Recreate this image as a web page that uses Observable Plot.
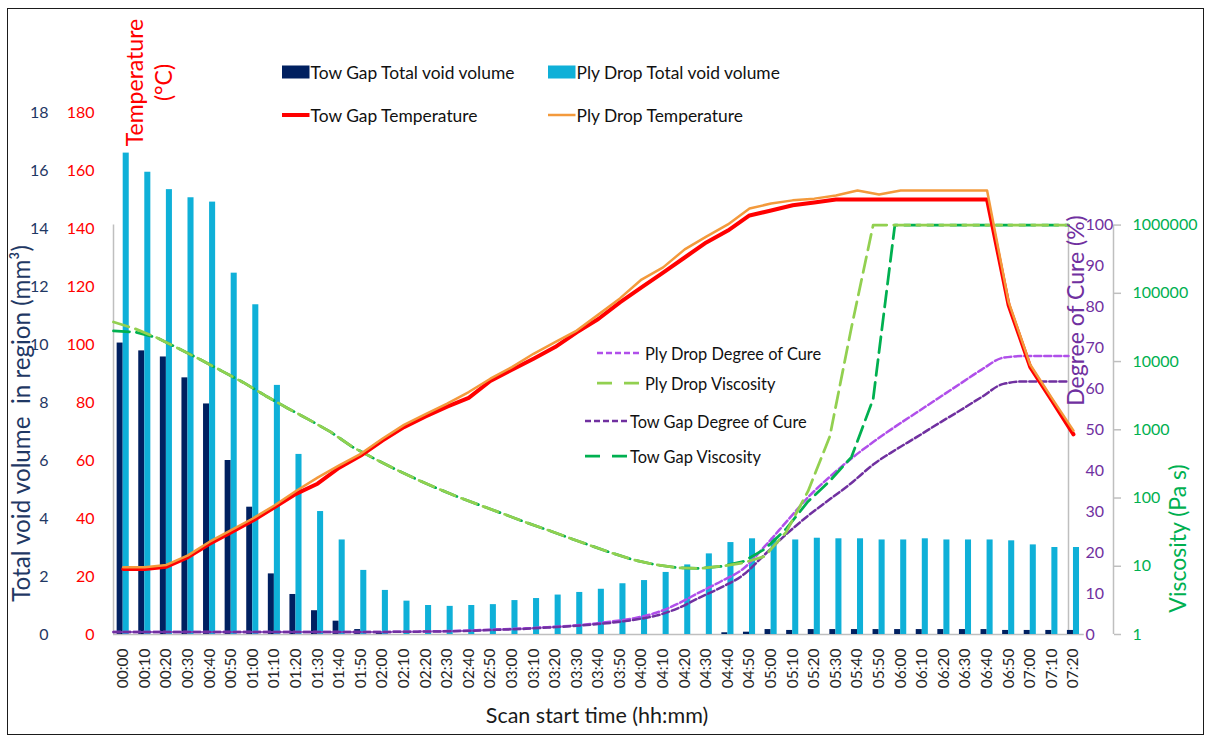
<!DOCTYPE html>
<html><head><meta charset="utf-8">
<script src="https://cdn.jsdelivr.net/npm/d3@7"></script>
<script src="https://cdn.jsdelivr.net/npm/@observablehq/plot@0.6"></script>
<style>
html,body{margin:0;padding:0;background:#fff;}
#wrap{position:relative;width:1207px;height:735px;font-family:Lato,"Open Sans",sans-serif;overflow:hidden;}
#border{position:absolute;left:7px;top:8px;width:1197px;height:727px;border:1.5px solid #1b1b1b;box-sizing:border-box;pointer-events:none}
.leg{position:absolute;display:flex;align-items:center;white-space:nowrap;color:#111;height:30px;}
.leg svg{display:block;overflow:visible}
</style></head><body><div id="wrap"><div id="border"></div></div>
<script>
// ---------- data ----------
const times = ["00:00","00:10","00:20","00:30","00:40","00:50","01:00","01:10","01:20","01:30","01:40","01:50",
  "02:00","02:10","02:20","02:30","02:40","02:50","03:00","03:10","03:20","03:30","03:40","03:50",
  "04:00","04:10","04:20","04:30","04:40","04:50","05:00","05:10","05:20","05:30","05:40","05:50",
  "06:00","06:10","06:20","06:30","06:40","06:50","07:00","07:10","07:20"];
// Total void volume in region (mm^3)
const towVoid = [10.05,9.78,9.57,8.85,7.95,6.0,4.39,2.09,1.38,0.82,0.46,0.17,0.05,
  0,0,0,0,0,0,0,0,0,0,0,0,0,0,0,
  0.06,0.08,0.17,0.14,0.17,0.17,0.17,0.17,0.17,0.17,0.17,0.17,0.17,0.14,0.14,0.14,0.14];
const plyVoid = [16.6,15.94,15.34,15.06,14.91,12.46,11.37,8.59,6.21,4.24,3.26,2.21,1.52,1.15,1.0,0.97,1.0,1.03,
  1.17,1.24,1.36,1.45,1.56,1.75,1.86,2.14,2.40,2.78,3.17,3.30,3.32,3.26,3.32,3.30,3.30,3.26,3.26,3.30,3.26,
  3.26,3.26,3.23,3.09,3.0,3.0];
// Temperature (°C)
const towTemp = [22.6,22.6,23.4,26.7,31.3,35.3,39.3,43.9,48.5,52.0,57.5,61.7,66.9,71.5,75.2,78.6,81.6,87.4,91.3,
  95.1,99.1,104.2,108.8,114.5,119.7,124.8,130.0,135.2,139.3,144.5,146.2,148.0,149.0,
  150,150,150,150,150,150,150,150,113.5,92.2,80.7,69.0];
const plyTemp = [23.2,23.2,24,27.3,32,36,40,44.5,49.5,54.1,58.3,62.3,67.5,72.3,76,79.6,83.6,88.2,92.2,96.8,
  100.8,104.8,110.3,115.9,122.4,126.6,132.8,137.2,141.4,146.9,148.6,149.7,150.3,151.4,153.1,151.7,153.1,153.1,
  153.1,153.1,153.1,114.6,93,81.5,70.3];
// Degree of cure (%)
const plyCure = [0.6,0.6,0.6,0.6,0.6,0.6,0.6,0.6,0.6,0.6,0.6,0.6,0.6,0.65,0.7,0.8,0.9,1.1,1.3,1.5,
  1.8,2.1,2.6,3.2,4.0,5.3,7.5,10.3,13,16,21.5,27.5,33.5,38.5,43,47,50.7,54.2,57.7,61.2,64.7,67.6,68,68,68];
const towCure = [0.6,0.6,0.6,0.6,0.6,0.6,0.6,0.6,0.6,0.6,0.6,0.6,0.6,0.65,0.7,0.75,0.85,1.0,1.2,1.4,
  1.7,2.0,2.4,2.9,3.6,4.6,6.4,9.0,11.5,14.5,19.5,24.5,29,33,37,41.5,45,48.2,51.5,54.7,58,61.2,61.8,61.8,61.8];
// Viscosity (Pa s)
const plyVisc = [38000,30200,22400,15500,10700,7240,4900,3160,2090,1410,933,562,380,263,186,135,100,76,58,44,
  34,26,20,15.5,12.3,10.5,9.5,9.3,10,11.2,14,32,126,794,31600,1000000,
  1000000,1000000,1000000,1000000,1000000,1000000,1000000,1000000,1000000];
const towVisc = [28200,27000,22400,15500,10700,7240,4900,3160,2090,1410,933,562,380,263,186,135,100,76,58,44,
  34,26,20,15.5,12.3,10.5,9.5,9.3,10,11.7,17.8,35.5,89,178,398,2820,
  1000000,1000000,1000000,1000000,1000000,1000000,1000000,1000000,1000000];
// axis ticks
const voidTicks = [0,2,4,6,8,10,12,14,16,18];
const tempTicks = [0,20,40,60,80,100,120,140,160,180];
const cureTicks = [0,10,20,30,40,50,60,70,80,90,100];
const viscTicks = [1,10,100,1000,10000,100000,1000000];

// ---------- scales / mapping ----------
const W = 1207, H = 735;
const K = 1.412;   // temperature-axis units per % of cure
const D = 23.53;   // temperature-axis units per decade of viscosity
const V = 10;      // temperature-axis units per mm^3
const xDomain = [-0.449, 43.77];
const xs = d3.scaleLinear([0, times.length - 1], xDomain); // secondary category axis (on tick marks)

const rows = times.map((t, i) => ({i, t,
  towVoid: towVoid[i], plyVoid: plyVoid[i], towTemp: towTemp[i], plyTemp: plyTemp[i],
  towCure: towCure[i], plyCure: plyCure[i], towVisc: towVisc[i], plyVisc: plyVisc[i]}));

const C = {navy:"#002060", cyan:"#0FB0D8", red:"#FF0000", orange:"#F39A3C",
  purpleL:"#B04FEA", purple:"#7030A0", greenL:"#92D050", green:"#00B050",
  axis:"#BFBFBF", navyText:"#1F3864", text:"#1a1a1a"};

const title = (s, o) => Plot.text([s], {text: d => d, textAnchor: "middle", lineAnchor: "middle", ...o});

const chart = Plot.plot({
  width: W, height: H,
  marginLeft: 113, marginRight: W - 1068, marginTop: 112, marginBottom: H - 634,
  x: {domain: xDomain, label: null},
  y: {domain: [0, 180], label: null},
  style: {fontFamily: "Lato, 'Open Sans', sans-serif", fontSize: "16px", background: "transparent", overflow: "visible"},
  marks: [
    // axis lines
    Plot.ruleY([0], {x1: () => xDomain[0], x2: () => times.length - 0.5, stroke: C.axis, strokeWidth: 1.5}),
    Plot.ruleX([xDomain[0]], {y1: () => 0, y2: () => 100 * K, stroke: C.axis, strokeWidth: 1.5}),
    Plot.ruleX([xDomain[1]], {y1: () => 0, y2: () => 100 * K, stroke: C.axis, strokeWidth: 1.5}),
    Plot.ruleX([xDomain[1]], {y1: () => 0, y2: () => 6 * D, dx: 45, stroke: C.axis, strokeWidth: 1.5}),
    // bars
    Plot.rect(rows, {x1: d => d.i - 0.28, x2: d => d.i, y1: () => 0, y2: d => d.towVoid * V, fill: C.navy}),
    Plot.rect(rows, {x1: d => d.i, x2: d => d.i + 0.28, y1: () => 0, y2: d => d.plyVoid * V, fill: C.cyan}),
    // degree of cure
    Plot.line(rows, {x: d => xs(d.i), y: d => d.plyCure * K, stroke: C.purpleL, strokeWidth: 2.5, strokeDasharray: "7,3", curve: "monotone-x"}),
    Plot.line(rows, {x: d => xs(d.i), y: d => d.towCure * K, stroke: C.purple, strokeWidth: 2.5, strokeDasharray: "7,3", curve: "monotone-x"}),
    // viscosity
    Plot.line(rows, {x: d => xs(d.i), y: d => Math.log10(d.towVisc) * D, stroke: C.green, strokeWidth: 2.75, strokeDasharray: "16,7"}),
    Plot.line(rows, {x: d => xs(d.i), y: d => Math.log10(d.plyVisc) * D, stroke: C.greenL, strokeWidth: 2.75, strokeDasharray: "16,7"}),
    // temperature
    Plot.line(rows, {x: "i", y: "towTemp", stroke: C.red, strokeWidth: 4, strokeLinejoin: "round"}),
    Plot.line(rows, {x: "i", y: "plyTemp", stroke: C.orange, strokeWidth: 2.5, strokeLinejoin: "round"}),
    // axes
    Plot.axisX(rows.map(d => d.i), {label: null, tickFormat: i => times[i], tickRotate: -90, tickSize: 0, tickPadding: 14, fontSize: 15.5, fill: "#262626"}),
    Plot.axisY(tempTicks, {label: null, anchor: "left", tickSize: 0, tickPadding: 19, tickFormat: d => String(d), fill: C.red, fontSize: 16}),
    Plot.axisY(voidTicks.map(v => v * V), {label: null, anchor: "left", tickSize: 0, tickPadding: 65, tickFormat: d => String(Math.round(d / V)), fill: C.navyText, fontSize: 16}),
    Plot.axisY(cureTicks.map(c => c * K), {label: null, anchor: "right", tickSize: 0, tickPadding: 17, tickFormat: d => String(Math.round(d / K)), fill: C.purple, fontSize: 16}),
    Plot.axisY(viscTicks.map(v => Math.log10(v) * D), {label: null, anchor: "right", dx: 45, tickSize: 7, tickPadding: 12, stroke: C.axis, strokeWidth: 1.5, tickFormat: d => String(Math.round(10 ** (d / D))), fill: C.green, fontSize: 16}),
    // axis titles
    title("Total void volume  in region (mm³)", {frameAnchor: "left", dx: -91, dy: 50, rotate: -90, fill: C.navyText, fontSize: 24.2}),
    title("Temperature\n(°C)", {frameAnchor: "top-left", dx: 34.5, dy: -30, rotate: -90, fill: C.red, fontSize: 23, lineHeight: 1.26}),
    title("Degree of Cure (%)", {frameAnchor: "right", dx: 8, dy: -63, rotate: -90, fill: C.purple, fontSize: 23}),
    title("Viscosity (Pa s)", {frameAnchor: "right", dx: 110, dy: 165, rotate: -90, fill: C.green, fontSize: 23}),
    title("Scan start time (hh:mm)", {frameAnchor: "bottom", dx: 6, dy: 82, fill: C.text, fontSize: 21.5})
  ]
});
const wrap = document.getElementById("wrap");
chart.style.position = "absolute";
chart.style.left = "0px";
chart.style.top = "0px";
wrap.insertBefore(chart, wrap.firstChild);

// ---------- legends ----------
const legendTop = [
  {label: "Tow Gap Total void volume", kind: "bar", color: C.navy},
  {label: "Ply Drop Total void volume", kind: "bar", color: C.cyan},
  {label: "Tow Gap Temperature", kind: "line", color: C.red, width: 4},
  {label: "Ply Drop Temperature", kind: "line", color: C.orange, width: 2.5}
];
const legendTopPos = [[282, 72], [548, 72], [282, 115], [548, 115]];
const legendMid = [
  {label: "Ply Drop Degree of Cure", color: C.purpleL, dash: "6,3", width: 2.5},
  {label: "Ply Drop Viscosity", color: C.greenL, dash: "15,12", width: 2.75},
  {label: "Tow Gap Degree of Cure", color: C.purple, dash: "6,3", width: 2.5},
  {label: "Tow Gap Viscosity", color: C.green, dash: "15,12", width: 2.75}
];
const legendMidPos = [[597, 353, 45], [597, 383, 45], [585, 421, 42], [585, 456, 42]];

function addLegend(x, cy, sw, swatch, label, fontSize, gap) {
  const div = document.createElement("div");
  div.className = "leg";
  div.style.left = x + "px";
  div.style.top = (cy - 15) + "px";
  div.style.fontSize = fontSize + "px";
  div.innerHTML = `<svg width="${sw}" height="30">${swatch}</svg><span style="margin-left:${gap}px">${label}</span>`;
  wrap.appendChild(div);
}
legendTop.forEach((d, k) => {
  const [x, cy] = legendTopPos[k];
  const sw = 27.5;
  const swatch = d.kind === "bar"
    ? `<rect x="0" y="8.5" width="${sw}" height="13" fill="${d.color}"/>`
    : `<line x1="0" x2="${sw}" y1="15" y2="15" stroke="${d.color}" stroke-width="${d.width}"/>`;
  addLegend(x, cy, sw, swatch, d.label, 17.4, 1);
});
legendMid.forEach((d, k) => {
  const [x, cy, sw] = legendMidPos[k];
  const swatch = `<line x1="0" x2="${sw}" y1="15" y2="15" stroke="${d.color}" stroke-width="${d.width}" stroke-dasharray="${d.dash}"/>`;
  addLegend(x, cy, sw, swatch, d.label, 16.4, 3);
});
</script></body></html>
